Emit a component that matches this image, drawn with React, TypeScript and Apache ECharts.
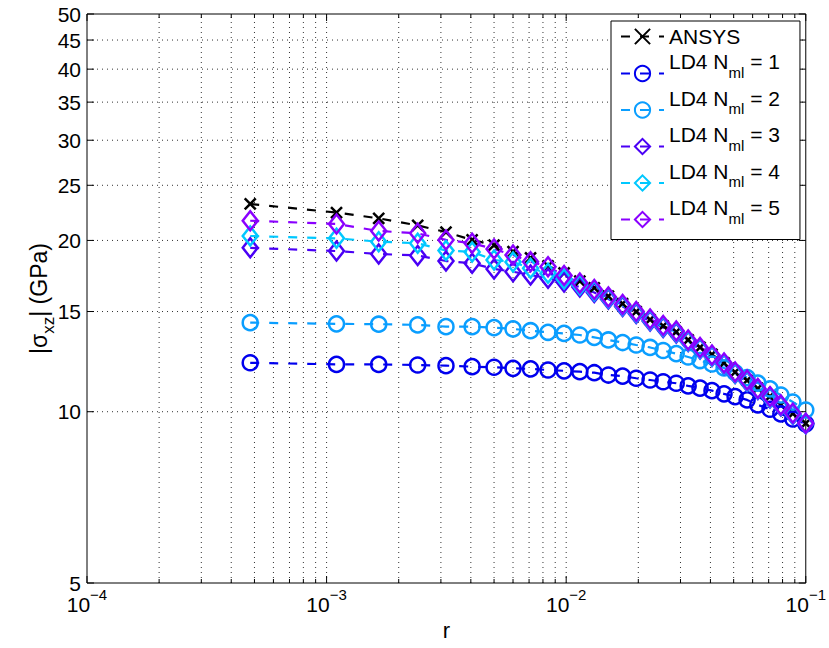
import React, { useEffect, useRef } from "react";
import * as echarts from "echarts";

// ---------- data ----------
const rValues = [4.8e-4, 1.1e-3, 1.65e-3, 2.4e-3, 3.15e-3, 4.05e-3, 5.0e-3, 6.0e-3, 7.1e-3, 8.4e-3, 9.8e-3, 1.14e-2, 1.31e-2, 1.5e-2, 1.72e-2, 1.96e-2, 2.24e-2, 2.54e-2, 2.88e-2, 3.23e-2, 3.62e-2, 4.06e-2, 4.56e-2, 5.07e-2, 5.69e-2, 6.31e-2, 7.09e-2, 7.87e-2, 8.83e-2, 0.1];

const ansys = [23.18, 22.39, 21.87, 21.25, 20.69, 20.04, 19.63, 19.11, 18.63, 18.04, 17.53, 16.97, 16.5, 15.97, 15.49, 15.0, 14.52, 14.15, 13.82, 13.37, 12.98, 12.61, 12.19, 11.74, 11.35, 10.99, 10.64, 10.28, 9.92, 9.54];
const nml1 = [12.19, 12.11, 12.11, 12.08, 12.05, 12.0, 11.97, 11.92, 11.89, 11.84, 11.8, 11.76, 11.71, 11.6, 11.55, 11.45, 11.37, 11.29, 11.22, 11.1, 11.0, 10.89, 10.75, 10.63, 10.49, 10.28, 10.1, 9.91, 9.71, 9.52];
const nml2 = [14.34, 14.27, 14.25, 14.21, 14.11, 14.11, 14.05, 13.98, 13.88, 13.79, 13.73, 13.64, 13.51, 13.37, 13.23, 13.1, 12.97, 12.81, 12.65, 12.48, 12.3, 12.13, 11.94, 11.72, 11.48, 11.23, 10.97, 10.7, 10.4, 10.07];
const nml3 = [19.41, 19.16, 18.93, 18.82, 18.4, 18.23, 17.82, 17.62, 17.39, 17.16, 16.9, 16.56, 16.2, 15.78, 15.31, 14.88, 14.43, 14.06, 13.75, 13.29, 12.89, 12.5, 12.11, 11.67, 11.3, 10.94, 10.57, 10.23, 9.89, 9.52];
const nml4 = [20.36, 20.17, 19.9, 19.77, 19.2, 19.09, 18.48, 18.33, 17.87, 17.51, 17.11, 16.7, 16.3, 15.84, 15.37, 14.94, 14.49, 14.12, 13.81, 13.31, 12.92, 12.53, 12.13, 11.7, 11.32, 10.96, 10.59, 10.25, 9.91, 9.53];
const nml5 = [21.66, 21.38, 20.78, 20.58, 20.04, 19.77, 19.32, 18.85, 18.35, 17.98, 17.36, 16.84, 16.4, 15.91, 15.43, 15.0, 14.55, 14.17, 13.86, 13.37, 12.97, 12.58, 12.18, 11.74, 11.37, 10.99, 10.63, 10.28, 9.94, 9.54];

const seriesNames = ["ANSYS", "LD4 N_ml = 1", "LD4 N_ml = 2", "LD4 N_ml = 3", "LD4 N_ml = 4", "LD4 N_ml = 5"];

const yTickValues = [5, 10, 15, 20, 25, 30, 35, 40, 45, 50];
const xMajorTicks = [1e-4, 1e-3, 1e-2, 1e-1];
const xMinorTicks = [2e-4, 3e-4, 4e-4, 5e-4, 6e-4, 7e-4, 8e-4, 9e-4, 2e-3, 3e-3, 4e-3, 5e-3, 6e-3, 7e-3, 8e-3, 9e-3, 2e-2, 3e-2, 4e-2, 5e-2, 6e-2, 7e-2, 8e-2, 9e-2];

const X_MIN = 1e-4;
const X_MAX = 1e-1;
const Y_MIN = 5;
const Y_MAX = 50;

const FONT = "'Liberation Sans', Arial, Helvetica, sans-serif";

const X_PATH = "path://M0,0L10,10M10,0L0,10";

export default function App() {
  const ref = useRef<HTMLDivElement>(null);

  useEffect(() => {
    if (!ref.current) return;
    const chart = echarts.init(ref.current, null, { renderer: "svg" });

    const styles = [
      { color: "#000000", symbol: X_PATH, size: 11 },
      { color: "#0000EE", symbol: "circle", size: 15 },
      { color: "#0A9EFF", symbol: "circle", size: 15 },
      { color: "#4A00F5", symbol: "diamond", size: [15, 19] },
      { color: "#00C8FF", symbol: "diamond", size: [15, 19] },
      { color: "#8A00FF", symbol: "diamond", size: [15, 19] },
    ];
    const ys = [ansys, nml1, nml2, nml3, nml4, nml5];

    const dataSeries = seriesNames.map((name, k) => ({
      name,
      type: "line",
      z: 3,
      data: rValues.map((r, i) => [r, ys[k][i]]),
      symbol: styles[k].symbol,
      symbolSize: styles[k].size,
      showSymbol: true,
      color: styles[k].color,
      lineStyle: { color: styles[k].color, width: 2.2, type: [9, 10] },
      itemStyle: { color: "transparent", borderColor: styles[k].color, borderWidth: 2.5 },
      emphasis: { disabled: true },
      silent: true,
    }));

    const dotted = { stroke: "#333", lineWidth: 1, lineDash: [1, 4] };
    const solid = { stroke: "#000", lineWidth: 1 };

    const yDeco = {
      type: "custom",
      name: "yDeco",
      z: 1,
      silent: true,
      clip: false,
      data: yTickValues.map((v) => [X_MIN, v]),
      renderItem: (params: any, api: any) => {
        const v = api.value(1);
        const l = api.coord([X_MIN, v]);
        const r = api.coord([X_MAX, v]);
        const children: any[] = [];
        if (v > Y_MIN && v < Y_MAX) {
          children.push({ type: "line", shape: { x1: l[0], y1: l[1], x2: r[0], y2: r[1] }, style: dotted });
        }
        children.push({ type: "line", shape: { x1: l[0], y1: l[1], x2: l[0] + 7, y2: l[1] }, style: solid });
        children.push({ type: "line", shape: { x1: r[0] - 7, y1: r[1], x2: r[0], y2: r[1] }, style: solid });
        children.push({
          type: "text",
          x: l[0] - 6,
          y: l[1],
          style: { text: String(v), fill: "#000", fontSize: 21, fontFamily: FONT, align: "right", verticalAlign: "middle" },
        });
        return { type: "group", children };
      },
    };

    const xDeco = {
      type: "custom",
      name: "xDeco",
      z: 1,
      silent: true,
      clip: false,
      data: [...xMajorTicks.map((v) => [v, Y_MIN, 1]), ...xMinorTicks.map((v) => [v, Y_MIN, 0])],
      renderItem: (params: any, api: any) => {
        const v = api.value(0);
        const major = api.value(2) === 1;
        const b = api.coord([v, Y_MIN]);
        const t = api.coord([v, Y_MAX]);
        const len = major ? 7 : 4;
        const children: any[] = [];
        if (v > X_MIN * 1.0001 && v < X_MAX * 0.9999) {
          children.push({ type: "line", shape: { x1: b[0], y1: b[1], x2: t[0], y2: t[1] }, style: dotted });
        }
        children.push({ type: "line", shape: { x1: b[0], y1: b[1], x2: b[0], y2: b[1] - len }, style: solid });
        children.push({ type: "line", shape: { x1: t[0], y1: t[1], x2: t[0], y2: t[1] + len }, style: solid });
        return { type: "group", children };
      },
    };

    const option: any = {
      animation: false,
      backgroundColor: "#fff",
      textStyle: { fontFamily: FONT },
      grid: {
        left: 87,
        right: 21,
        top: 14,
        bottom: 65,
        show: true,
        borderColor: "#000",
        borderWidth: 1,
        backgroundColor: "transparent",
      },
      legend: {
        data: seriesNames,
        orient: "vertical",
        left: 611,
        top: 21,
        itemWidth: 43,
        itemHeight: 19,
        itemGap: 2,
        padding: [3, 20, 8, 9],
        backgroundColor: "#fff",
        borderColor: "#000",
        borderWidth: 1,
        borderRadius: 0,
        selectedMode: false,
        formatter: (name: string) => {
          const m = name.match(/^(.*)_ml(.*)$/);
          if (m) return `{a|${m[1]}}{s|ml}{a|${m[2]}}`;
          return `{p|${name}}`;
        },
        textStyle: {
          color: "#000",
          fontFamily: FONT,
          fontSize: 21,
          rich: {
            a: { fontSize: 21, lineHeight: 24, fontFamily: FONT, color: "#000", padding: [0, 0, 13.5, 0], verticalAlign: "bottom" },
            s: { fontSize: 15, lineHeight: 18, fontFamily: FONT, color: "#000", padding: [0, 0, 6, 0], verticalAlign: "bottom" },
            p: { fontSize: 21, lineHeight: 24, fontFamily: FONT, color: "#000", padding: [2, 0, 2, 0] },
          },
        },
      },
      xAxis: {
        type: "log",
        logBase: 10,
        min: X_MIN,
        max: X_MAX,
        name: "r",
        nameLocation: "middle",
        nameGap: 36,
        nameTextStyle: { fontSize: 22, color: "#000", fontFamily: FONT },
        axisLine: { show: false },
        axisTick: { show: false },
        splitLine: { show: false },
        axisLabel: {
          margin: 8,
          color: "#000",
          formatter: (v: number) => `{b|10}{s|−${Math.round(-Math.log10(v))}}`,
          rich: {
            b: { fontSize: 21, lineHeight: 24, fontFamily: FONT, color: "#000", verticalAlign: "bottom" },
            s: { fontSize: 15, lineHeight: 18, fontFamily: FONT, color: "#000", padding: [0, 0, 13, 0], verticalAlign: "bottom" },
          },
        },
      },
      yAxis: {
        type: "log",
        logBase: 10,
        min: Y_MIN,
        max: Y_MAX,
        name: "{a||σ}{sub|xz}{a|| (GPa)}",
        nameLocation: "middle",
        nameGap: 30,
        nameRotate: 90,
        nameTextStyle: {
          color: "#000",
          fontFamily: FONT,
          fontSize: 23,
          rich: {
            a: { fontSize: 23, lineHeight: 27, fontFamily: FONT, color: "#000", padding: [0, 0, 7, 0], verticalAlign: "bottom" },
            sub: { fontSize: 17, lineHeight: 20, fontFamily: FONT, color: "#000", verticalAlign: "bottom" },
          },
        },
        axisLine: { show: false },
        axisTick: { show: false },
        axisLabel: { show: false },
        splitLine: { show: false },
      },
      series: [xDeco, yDeco, ...dataSeries],
    };

    chart.setOption(option);
    return () => chart.dispose();
  }, []);

  return <div ref={ref} style={{ position: "absolute", left: 0, top: 0, width: 829, height: 648 }} />;
}
